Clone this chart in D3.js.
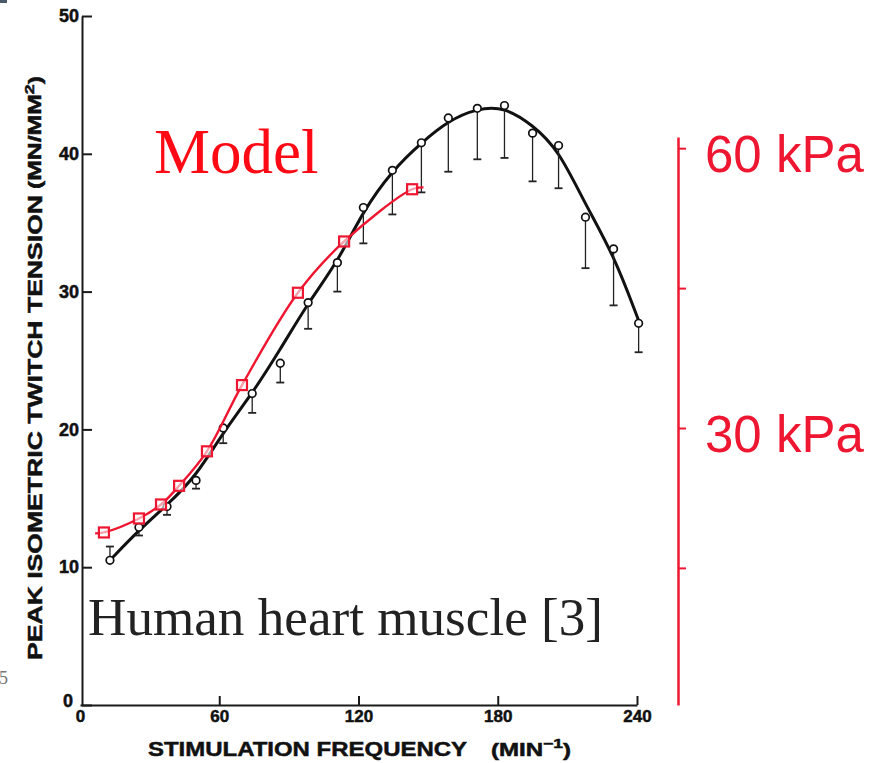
<!DOCTYPE html>
<html>
<head>
<meta charset="utf-8">
<script src="https://cdn.jsdelivr.net/npm/d3@7"></script>
<style>
  html, body { margin: 0; padding: 0; background: #fff; }
  svg { display: block; }
</style>
</head>
<body>
<div id="chart"></div>
<script>
// ---- Data ----
// Experimental: human heart muscle (stimulation frequency, min^-1 ; tension mN/mm^2)
const expFreq    = [12.9, 25.4, 37.5, 50.0, 61.7, 74.2, 86.3, 98.3, 110.9, 122.1, 134.6, 147.1, 158.7, 171.2, 182.9, 195.0, 206.2, 217.8, 229.9, 240.7];
const expTension = [10.5, 12.9, 14.4, 16.3, 20.1, 22.6, 24.8, 29.2, 32.1, 36.1, 38.8, 40.8, 42.6, 43.3, 43.5, 41.5, 40.6, 35.4, 33.1, 27.7];
const expErrEnd  = [11.5, 12.3, 13.8, 15.7, 19.0, 21.2, 23.4, 27.3, 30.0, 33.5, 35.6, 37.2, 38.7, 39.6, 39.7, 38.0, 37.5, 31.7, 29.0, 25.6];
// Smooth fitted curve through the experimental data
const fitFreq    = [12.9, 25.4, 37.5, 50.0, 61.7, 74.2, 86.3, 98.3, 110.9, 122.1, 134.6, 147.1, 158.7, 171.2, 182.9, 195.0, 206.2, 217.8, 229.9, 240.7];
const fitTension = [10.5, 12.7, 14.5, 16.6, 19.8, 22.6, 25.8, 29.2, 32.1, 35.9, 38.8, 40.8, 42.4, 43.3, 43.4, 42.1, 40.3, 36.3, 32.7, 27.9];
// Model (frequency, min^-1 ; tension kPa, right axis)
const modelFreq  = [10.3, 25.4, 34.9, 42.7, 54.7, 69.8, 93.9, 113.8, 143.1];
const modelKPa   = [18.8, 20.3, 21.8, 23.8, 27.5, 34.6, 44.5, 50.0, 55.6];
// Model curve (smooth line drawn through/around the model points)
const modelCurveFreq = [6.5, 10.3, 25.4, 34.9, 42.7, 54.7, 69.8, 93.9, 113.8, 143.1, 148.0];
const modelCurveKPa  = [18.7, 18.8, 20.3, 21.8, 23.8, 27.5, 34.6, 44.5, 50.0, 55.6, 55.8];
// Ticks
const xTicks  = [0, 60, 120, 180, 240];
const yTicks  = [0, 10, 20, 30, 40, 50];
const yRTicks = [15, 30, 45, 60];
const yRLabels = [30, 60];

const W = 875, H = 763;
const RED = "#ee1630";
const svg = d3.select("#chart").append("svg").attr("width", W).attr("height", H);

const x  = d3.scaleLinear().domain([0, 240]).range([80, 637]);
const y  = d3.scaleLinear().domain([0, 50]).range([705, 16]);
const yR = d3.scaleLinear().domain([0.3, 61.2]).range([705, 137]);

// slide artifacts
svg.append("rect").attr("x", 0).attr("y", 0).attr("width", 7).attr("height", 3).attr("fill", "#4a5a6a");
svg.append("text").attr("x", -1).attr("y", 684).attr("font-family", "Liberation Serif, serif")
  .attr("font-size", 18).attr("fill", "#777").text("5");

const sans = "Liberation Sans, Arial, Helvetica, sans-serif";
const heavy = sel => sel.attr("font-family", sans).attr("font-weight", "bold").attr("fill", "#111")
  .attr("stroke", "#111").attr("stroke-width", 0.5);

// Left axis
const gy = svg.append("g").attr("transform", `translate(${x(0) + 2},0)`)
  .call(d3.axisLeft(y).tickValues(yTicks).tickSizeInner(-10).tickSizeOuter(0).tickPadding(3));
gy.select(".domain").attr("stroke", "#1a1a1a").attr("stroke-width", 2);
gy.selectAll(".tick line").attr("stroke", "#1a1a1a").attr("stroke-width", 2);
gy.selectAll(".tick text").call(heavy).attr("font-size", 18);
gy.selectAll(".tick").filter(d => d === 0).select("text").attr("dx", -6).attr("dy", "0.1em");

// Bottom axis
const gx = svg.append("g").attr("transform", `translate(0,${y(0)})`)
  .call(d3.axisBottom(x).tickValues(xTicks).tickSizeInner(-9).tickSizeOuter(0).tickPadding(5));
gx.select(".domain").attr("stroke", "#1a1a1a").attr("stroke-width", 2);
gx.selectAll(".tick line").attr("stroke", "#1a1a1a").attr("stroke-width", 2);
gx.selectAll(".tick").filter(d => d === 0).select("line").remove();
gx.selectAll(".tick text").call(heavy).attr("font-size", 17);

// Right (red) axis
const gr = svg.append("g").attr("transform", `translate(678,0)`)
  .call(d3.axisRight(yR).tickValues(yRTicks).tickSizeInner(8).tickSizeOuter(0).tickFormat(""));
gr.select(".domain").attr("stroke", RED).attr("stroke-width", 2.5);
gr.selectAll(".tick line").attr("stroke", RED).attr("stroke-width", 2);
svg.selectAll(".rlab").data(yRLabels).enter().append("text")
  .attr("x", 705).attr("y", d => yR(d) + 24)
  .attr("font-family", sans).attr("font-size", 51).attr("fill", RED)
  .text(d => d + " kPa");

// Axis titles
const gt = svg.append("g").attr("transform", "translate(42,660) rotate(-90)");
gt.append("text").attr("x", 0).attr("y", 0).call(heavy)
  .attr("font-size", 21).attr("textLength", 465).attr("lengthAdjust", "spacingAndGlyphs")
  .text("PEAK ISOMETRIC TWITCH TENSION");
const ut = gt.append("text").attr("x", 471).attr("y", -1).call(heavy).attr("font-size", 18)
  .attr("textLength", 113).attr("lengthAdjust", "spacingAndGlyphs");
ut.append("tspan").text("(MN/MM");
ut.append("tspan").attr("font-size", 13).attr("dy", -7).text("2");
ut.append("tspan").attr("dy", 7).text(")");

svg.append("text").attr("x", 148).attr("y", 756).call(heavy)
  .attr("font-size", 21).attr("textLength", 319).attr("lengthAdjust", "spacingAndGlyphs")
  .text("STIMULATION FREQUENCY");
const xu = svg.append("text").attr("x", 491).attr("y", 756).call(heavy).attr("font-size", 18)
  .attr("textLength", 80).attr("lengthAdjust", "spacingAndGlyphs");
xu.append("tspan").text("(MIN");
xu.append("tspan").attr("font-size", 13).attr("dy", -8).text("\u22121");
xu.append("tspan").attr("dy", 8).text(")");

// Annotations
svg.append("text").attr("x", 154).attr("y", 173).attr("font-family", "Liberation Serif, Times New Roman, serif")
  .attr("font-size", 63).attr("fill", "#ff0a14").text("Model");
svg.append("text").attr("x", 88).attr("y", 635).attr("font-family", "Liberation Serif, Times New Roman, serif")
  .attr("font-size", 52).attr("fill", "#222").attr("textLength", 515).attr("lengthAdjust", "spacingAndGlyphs")
  .text("Human heart muscle [3]");

// Experimental fit curve
const fit = fitFreq.map((f, i) => [f, fitTension[i]]);
svg.append("path").datum(fit)
  .attr("d", d3.line().x(d => x(d[0])).y(d => y(d[1])).curve(d3.curveBasis))
  .attr("fill", "none").attr("stroke", "#111").attr("stroke-width", 3);

// Error bars
const exp = expFreq.map((f, i) => ({ f, t: expTension[i], e: expErrEnd[i] }));
const eb = svg.append("g").attr("stroke", "#222").attr("stroke-width", 1.3);
eb.selectAll("line.v").data(exp).enter().append("line")
  .attr("x1", d => x(d.f)).attr("x2", d => x(d.f)).attr("y1", d => y(d.t)).attr("y2", d => y(d.e));
eb.selectAll("line.c").data(exp).enter().append("line")
  .attr("x1", d => x(d.f) - 4).attr("x2", d => x(d.f) + 4).attr("y1", d => y(d.e)).attr("y2", d => y(d.e))
  .attr("stroke-width", 1.8);
svg.append("g").selectAll("circle").data(exp).enter().append("circle")
  .attr("cx", d => x(d.f)).attr("cy", d => y(d.t)).attr("r", 3.8)
  .attr("fill", "#fff").attr("stroke", "#111").attr("stroke-width", 1.7);

// Model curve & squares
const modelCurve = modelCurveFreq.map((f, i) => [f, modelCurveKPa[i]]);
svg.append("path").datum(modelCurve)
  .attr("d", d3.line().x(d => x(d[0])).y(d => yR(d[1])).curve(d3.curveCatmullRom.alpha(0.5)))
  .attr("fill", "none").attr("stroke", RED).attr("stroke-width", 2.4);
const model = modelFreq.map((f, i) => [f, modelKPa[i]]);
svg.append("g").selectAll("rect").data(model).enter().append("rect")
  .attr("x", d => x(d[0]) - 5).attr("y", d => yR(d[1]) - 5).attr("width", 10).attr("height", 10)
  .attr("fill", "#fff").attr("fill-opacity", 0.6).attr("stroke", RED).attr("stroke-width", 2.2);
</script>
</body>
</html>
